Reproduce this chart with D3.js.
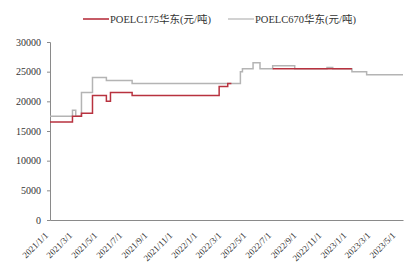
<!DOCTYPE html>
<html>
<head>
<meta charset="utf-8">
<script src="https://cdn.jsdelivr.net/npm/d3@7"></script>
<style>
    body { margin: 0; background: #fff; }
    text { font-family: "Liberation Serif", "Times New Roman", "Noto Sans CJK SC", serif; fill: #333; }
</style>
</head>
<body>
<div id="chart"></div>
<script>
// step series (value holds from its date to the next one)
const seriesNames = ["POELC175华东(元/吨)", "POELC670华东(元/吨)"];
const redDates = ["2021-01-01", "2021-02-25", "2021-03-19", "2021-04-15", "2021-05-19", "2021-05-29",
    "2021-07-21", "2022-02-19", "2022-03-12", "2022-03-21", "2022-03-22", "2022-06-30", "2023-01-10"];
const redValues = [16500, 17500, 18000, 21000, 20000, 21500,
    21000, 22500, 23000, 23000, null, 25500, 25500];
const grayDates = ["2021-01-01", "2021-02-25", "2021-03-05", "2021-03-19", "2021-04-15", "2021-05-19",
    "2021-07-21", "2022-04-12", "2022-04-17", "2022-05-13", "2022-05-30", "2022-06-30",
    "2022-08-23", "2022-11-10", "2022-11-24", "2023-01-10", "2023-02-15", "2023-05-15"];
const grayValues = [17500, 18500, 17500, 21500, 24000, 23500,
    23000, 25000, 25500, 26500, 25500, 26000,
    25500, 25700, 25500, 25000, 24500, 24500];
const xTickLabels = ["2021/1/1", "2021/3/1", "2021/5/1", "2021/7/1", "2021/9/1", "2021/11/1",
    "2022/1/1", "2022/3/1", "2022/5/1", "2022/7/1", "2022/9/1", "2022/11/1",
    "2023/1/1", "2023/3/1", "2023/5/1"];
const yTicks = [0, 5000, 10000, 15000, 20000, 25000, 30000];

const width = 420, height = 272;
const margin = {left: 50, right: 17, top: 42, bottom: 52};
const colors = ["#b8323f", "#b4b4b4"];

const parse = d3.timeParse("%Y-%m-%d");
const parseTick = d3.timeParse("%Y/%m/%d");

const svg = d3.select("#chart").append("svg")
    .attr("width", width)
    .attr("height", height);

const x = d3.scaleTime()
    .domain([parse("2021-01-01"), parse("2023-05-15")])
    .range([margin.left, width - margin.right]);
const y = d3.scaleLinear()
    .domain([0, 30000])
    .range([height - margin.bottom, margin.top]);

// y axis
const yAxis = svg.append("g")
    .attr("transform", `translate(${margin.left},0)`)
    .call(d3.axisLeft(y).tickValues(yTicks).tickSize(3).tickPadding(6).tickFormat(d3.format("d")));
yAxis.select(".domain").attr("stroke", "#8a8a8a");
yAxis.selectAll(".tick line").attr("stroke", "#8a8a8a");
yAxis.selectAll("text").style("font-size", "10px").attr("fill", "#333");

// x axis
const xAxis = svg.append("g")
    .attr("transform", `translate(0,${height - margin.bottom})`)
    .call(d3.axisBottom(x).tickValues(xTickLabels.map(parseTick)).tickSize(0).tickFormat((d, i) => xTickLabels[i]));
xAxis.select(".domain").attr("stroke", "#8a8a8a").attr("stroke-width", 1.2);
xAxis.selectAll("text")
    .style("font-size", "9px")
    .attr("fill", "#333")
    .attr("text-anchor", "end")
    .attr("dy", 0)
    .attr("transform", "translate(-4,14) rotate(-45)");

const line = d3.line()
    .defined(d => d.v !== null)
    .x(d => x(d.t))
    .y(d => y(d.v))
    .curve(d3.curveStepAfter);

const grayData = grayDates.map((t, i) => ({t: parse(t), v: grayValues[i]}));
const redData = redDates.map((t, i) => ({t: parse(t), v: redValues[i]}));

svg.append("path")
    .attr("d", line(grayData))
    .attr("fill", "none")
    .attr("stroke", colors[1])
    .attr("stroke-width", 1.5);
svg.append("path")
    .attr("d", line(redData))
    .attr("fill", "none")
    .attr("stroke", colors[0])
    .attr("stroke-width", 1.5);

// legend
const legendX = [83, 228];
const legend = svg.append("g").selectAll("g")
    .data(seriesNames)
    .enter()
    .append("g")
    .attr("transform", (d, i) => `translate(${legendX[i]},19)`);
legend.append("line")
    .attr("x1", 0).attr("x2", 26)
    .attr("stroke", (d, i) => colors[i])
    .attr("stroke-width", (d, i) => i == 0 ? 1.6 : 1.2);
legend.append("text")
    .attr("x", 27)
    .attr("dy", "0.35em")
    .style("font-size", "10.5px")
    .text(d => d);
</script>
</body>
</html>
